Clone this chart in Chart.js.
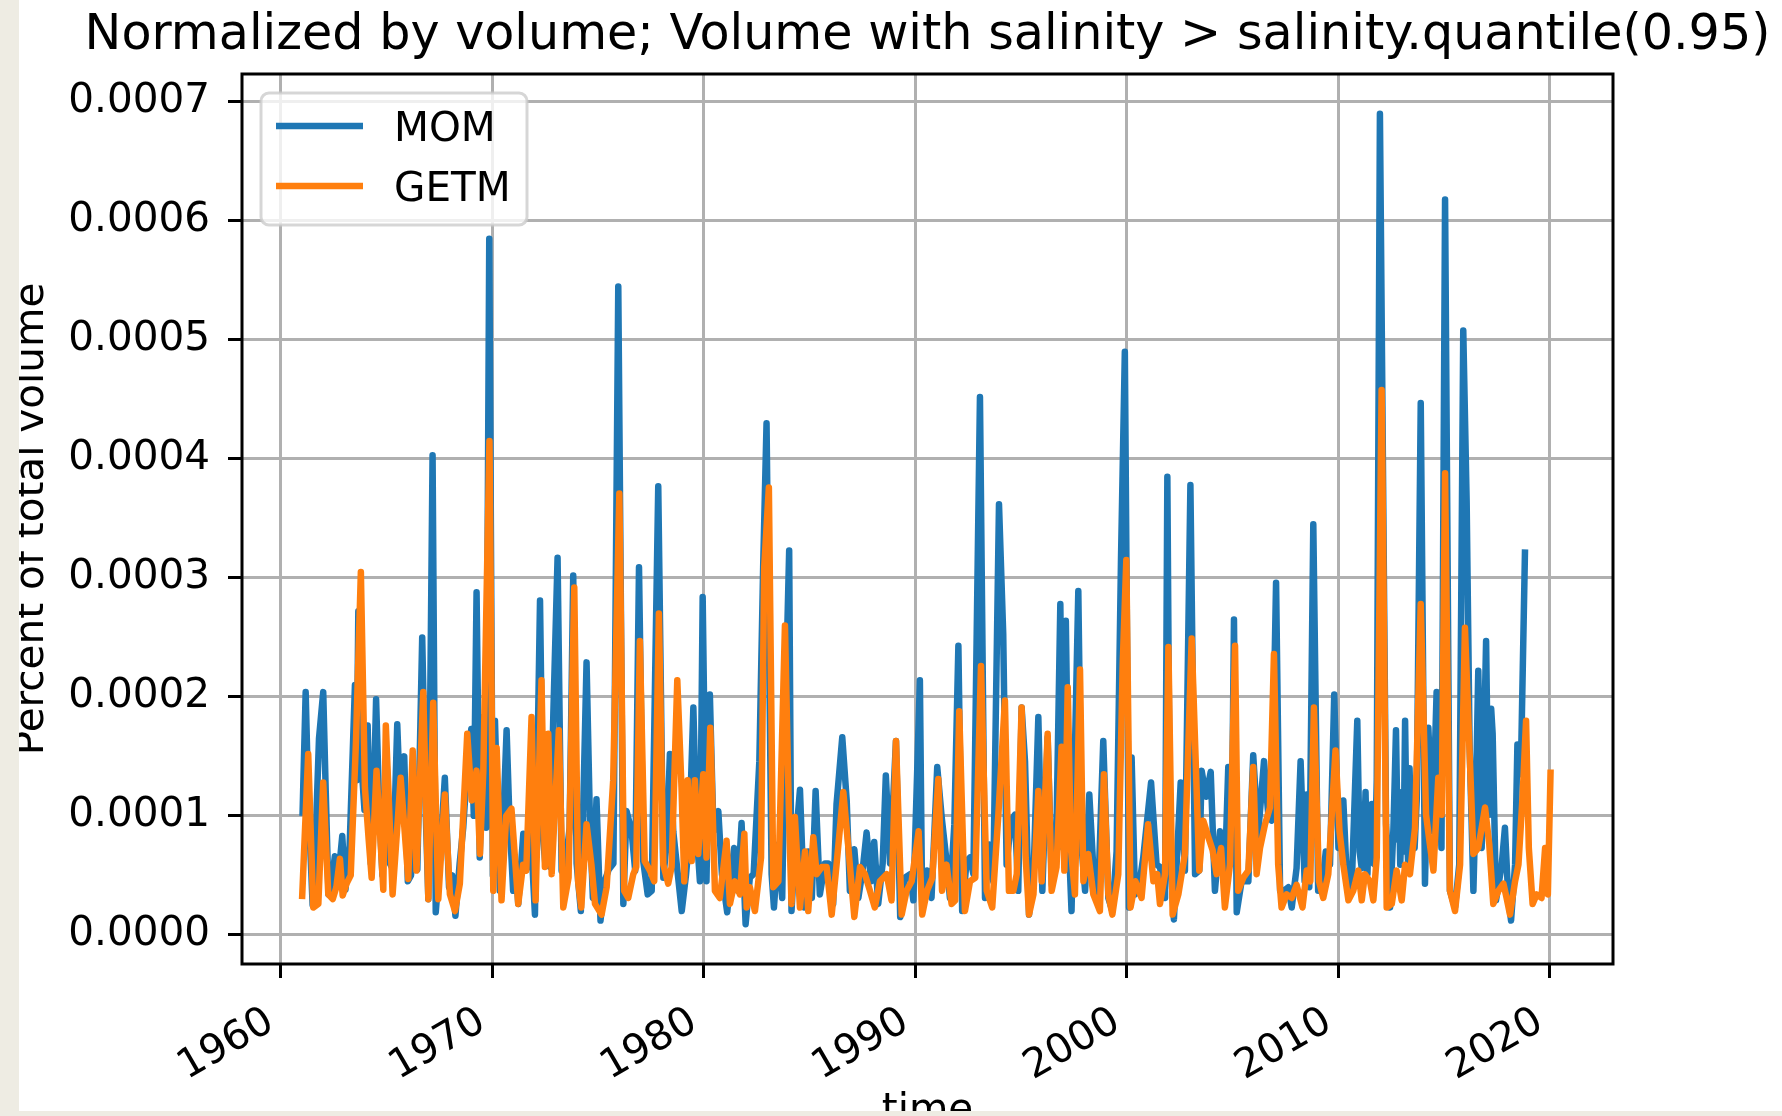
<!DOCTYPE html>
<html>
<head>
<meta charset="utf-8">
<title>Normalized by volume</title>
<script src="https://cdn.jsdelivr.net/npm/chart.js@4/dist/chart.umd.min.js"></script>
<style>
  html, body { margin: 0; padding: 0; overflow: hidden; background: #eeece3; }
  /* white figure, with the beige page showing on the left and bottom edge */
  #frame { position: absolute; left: 19px; top: 0; width: 1763px; height: 1111px; overflow: hidden; background: #fff; }
  #chart { position: absolute; left: -19px; top: 0; }
</style>
</head>
<body>
<div id="frame"><canvas id="chart" width="1782" height="1160"></canvas></div>
<script>
// values are in units of 1e-4 (percent of total volume), time in decimal years
const valueUnit = 1e-4;

const momPoints = [
  [1961.02, 1.0], [1961.17, 2.04], [1961.3, 1.1], [1961.5, 0.25], [1961.62, 0.7], [1961.8, 1.65],
  [1962.0, 2.04], [1962.12, 1.2], [1962.25, 0.34], [1962.4, 0.45], [1962.55, 0.66], [1962.68, 0.42],
  [1962.9, 0.83], [1963.05, 0.38], [1963.25, 0.75], [1963.5, 2.1], [1963.58, 1.3], [1963.66, 2.72],
  [1963.82, 1.4], [1963.95, 1.05], [1964.1, 1.76], [1964.25, 0.6], [1964.38, 1.1], [1964.5, 1.98],
  [1964.65, 1.05], [1964.8, 0.5], [1965.0, 1.45], [1965.15, 0.6], [1965.3, 0.55], [1965.5, 1.77],
  [1965.65, 1.05], [1965.83, 1.5], [1966.0, 0.45], [1966.15, 0.5], [1966.3, 0.85], [1966.45, 0.55],
  [1966.68, 2.5], [1966.85, 1.0], [1966.97, 0.3], [1967.17, 4.03], [1967.32, 0.19], [1967.5, 0.6],
  [1967.75, 1.32], [1967.95, 0.4], [1968.1, 0.5], [1968.25, 0.16], [1968.45, 0.6], [1968.62, 0.9],
  [1968.8, 1.4], [1969.0, 1.73], [1969.12, 1.0], [1969.25, 2.88], [1969.4, 0.65], [1969.57, 1.83],
  [1969.7, 0.9], [1969.85, 5.85], [1970.02, 0.5], [1970.12, 1.8], [1970.35, 0.37], [1970.5, 0.9],
  [1970.67, 1.72], [1970.8, 1.0], [1970.98, 0.37], [1971.1, 0.6], [1971.22, 0.26], [1971.46, 0.85],
  [1971.6, 0.55], [1971.8, 0.9], [1972.01, 0.17], [1972.25, 2.81], [1972.4, 0.8], [1972.5, 0.6],
  [1972.72, 0.57], [1972.88, 1.86], [1973.08, 3.17], [1973.27, 0.54], [1973.51, 0.68], [1973.65, 0.9],
  [1973.82, 3.02], [1973.98, 0.6], [1974.18, 0.2], [1974.45, 2.29], [1974.61, 0.96], [1974.75, 0.31],
  [1974.92, 1.14], [1975.11, 0.12], [1975.3, 0.45], [1975.5, 0.55], [1975.72, 0.6], [1975.95, 5.45],
  [1976.19, 0.26], [1976.34, 1.04], [1976.58, 0.87], [1976.75, 0.54], [1976.93, 3.09], [1977.13, 0.62],
  [1977.34, 0.34], [1977.53, 0.37], [1977.62, 1.38], [1977.84, 3.77], [1978.08, 0.48], [1978.25, 0.8],
  [1978.39, 1.52], [1978.55, 0.87], [1978.95, 0.2], [1979.15, 0.5], [1979.3, 0.8], [1979.5, 1.91],
  [1979.65, 0.87], [1979.81, 0.45], [1979.94, 2.84], [1980.12, 0.45], [1980.28, 2.02], [1980.45, 0.87],
  [1980.68, 1.04], [1980.85, 0.51], [1981.1, 0.19], [1981.28, 0.51], [1981.43, 0.73], [1981.6, 0.37],
  [1981.78, 0.94], [1981.97, 0.09], [1982.17, 0.48], [1982.35, 0.51], [1982.62, 1.46], [1982.8, 3.09],
  [1982.96, 4.3], [1983.2, 0.51], [1983.31, 0.23], [1983.52, 0.76], [1983.7, 0.31], [1983.85, 1.9],
  [1984.03, 3.23], [1984.14, 0.2], [1984.3, 0.7], [1984.54, 1.22], [1984.74, 0.23], [1984.93, 0.7],
  [1985.1, 0.31], [1985.28, 1.21], [1985.48, 0.34], [1985.72, 0.6], [1985.88, 0.6], [1986.11, 0.26],
  [1986.27, 1.1], [1986.54, 1.66], [1986.75, 1.13], [1986.9, 0.37], [1987.11, 0.72], [1987.3, 0.31],
  [1987.5, 0.54], [1987.69, 0.86], [1987.9, 0.45], [1988.05, 0.78], [1988.24, 0.26], [1988.45, 0.6],
  [1988.6, 1.34], [1988.8, 0.6], [1989.08, 1.63], [1989.28, 0.15], [1989.5, 0.48], [1989.75, 0.51],
  [1989.9, 0.29], [1990.21, 2.14], [1990.32, 0.2], [1990.55, 0.54], [1990.76, 0.31], [1991.03, 1.41],
  [1991.24, 0.99], [1991.47, 0.62], [1991.63, 0.31], [1991.84, 0.93], [1992.03, 2.43], [1992.21, 0.2],
  [1992.42, 0.62], [1992.58, 0.65], [1992.74, 0.51], [1993.05, 4.52], [1993.29, 0.31], [1993.49, 0.76],
  [1993.68, 0.45], [1993.95, 3.62], [1994.15, 2.53], [1994.31, 0.59], [1994.52, 0.96], [1994.7, 1.01],
  [1994.86, 0.37], [1995.02, 1.91], [1995.18, 1.46], [1995.37, 0.17], [1995.58, 0.48], [1995.81, 1.83],
  [1996.0, 0.37], [1996.25, 1.66], [1996.45, 0.42], [1996.64, 0.59], [1996.85, 2.78], [1996.99, 0.73],
  [1997.11, 2.64], [1997.26, 0.73], [1997.38, 0.2], [1997.7, 2.89], [1997.86, 0.73], [1998.02, 0.37],
  [1998.22, 1.18], [1998.41, 0.56], [1998.64, 0.34], [1998.88, 1.63], [1999.12, 0.31], [1999.31, 0.2],
  [1999.51, 0.7], [1999.72, 3.17], [1999.9, 4.9], [2000.1, 0.23], [2000.22, 1.49], [2000.38, 0.34],
  [2000.54, 0.37], [2000.77, 0.65], [2001.14, 1.28], [2001.4, 0.59], [2001.56, 0.57], [2001.8, 0.31],
  [2001.91, 3.85], [2002.03, 0.73], [2002.22, 0.13], [2002.54, 1.28], [2002.74, 0.54], [2003.0, 3.78],
  [2003.22, 0.51], [2003.42, 0.54], [2003.53, 1.38], [2003.74, 1.16], [2003.96, 1.37], [2004.16, 0.37],
  [2004.4, 0.87], [2004.63, 0.51], [2004.79, 1.41], [2004.95, 0.73], [2005.06, 2.65], [2005.19, 0.19],
  [2005.42, 0.45], [2005.74, 0.45], [2005.97, 1.51], [2006.2, 0.84], [2006.48, 1.46], [2006.68, 1.01],
  [2006.84, 0.96], [2007.05, 2.96], [2007.24, 0.37], [2007.42, 0.37], [2007.63, 0.4], [2007.79, 0.23],
  [2008.02, 0.56], [2008.21, 1.46], [2008.4, 0.45], [2008.5, 1.18], [2008.62, 0.4], [2008.81, 3.45],
  [2009.04, 0.37], [2009.2, 0.37], [2009.4, 0.7], [2009.6, 0.59], [2009.8, 2.02], [2010.0, 0.73],
  [2010.23, 1.13], [2010.4, 0.45], [2010.62, 0.37], [2010.89, 1.8], [2011.0, 0.7], [2011.1, 0.56],
  [2011.16, 1.05], [2011.21, 0.76], [2011.28, 1.2], [2011.37, 0.51], [2011.44, 0.95], [2011.5, 0.73],
  [2011.58, 1.1], [2011.65, 0.6], [2011.72, 0.59], [2011.81, 1.3], [2011.96, 6.9], [2012.25, 0.93],
  [2012.44, 0.23], [2012.6, 0.9], [2012.66, 1.3], [2012.72, 1.72], [2012.8, 0.8], [2012.86, 1.2],
  [2012.92, 0.59], [2013.0, 1.0], [2013.08, 0.7], [2013.15, 1.8], [2013.22, 0.9], [2013.3, 0.59],
  [2013.36, 1.4], [2013.41, 1.1], [2013.5, 0.8], [2013.6, 0.73], [2013.7, 1.13], [2013.89, 4.47],
  [2014.09, 0.43], [2014.25, 1.74], [2014.45, 0.87], [2014.64, 2.04], [2014.87, 0.73], [2015.04, 6.18],
  [2015.27, 0.37], [2015.51, 0.23], [2015.71, 0.59], [2015.9, 5.08], [2016.06, 3.65], [2016.2, 1.6],
  [2016.38, 0.37], [2016.5, 1.2], [2016.61, 2.22], [2016.7, 1.4], [2016.77, 0.73], [2016.88, 1.6],
  [2016.98, 2.47], [2017.06, 1.4], [2017.14, 1.01], [2017.22, 1.9], [2017.29, 1.69], [2017.45, 0.29],
  [2017.72, 0.59], [2017.87, 0.9], [2018.03, 0.31], [2018.16, 0.12], [2018.35, 0.59], [2018.46, 1.6],
  [2018.62, 1.35], [2018.82, 3.24]
];

const getmPoints = [
  [1961.0, 0.3], [1961.29, 1.52], [1961.53, 0.23], [1961.77, 0.26], [1962.0, 1.28], [1962.24, 0.34],
  [1962.45, 0.3], [1962.62, 0.4], [1962.79, 0.64], [1962.92, 0.33], [1963.1, 0.43], [1963.3, 0.5],
  [1963.55, 1.63], [1963.78, 3.05], [1963.97, 1.24], [1964.15, 0.8], [1964.29, 0.48], [1964.52, 1.38],
  [1964.84, 0.38], [1964.96, 1.76], [1965.28, 0.34], [1965.5, 0.9], [1965.66, 1.32], [1966.02, 0.47],
  [1966.23, 1.55], [1966.41, 0.54], [1966.73, 2.04], [1966.97, 0.3], [1967.2, 1.95], [1967.44, 0.3],
  [1967.75, 1.18], [1967.99, 0.34], [1968.23, 0.2], [1968.46, 0.43], [1968.81, 1.69], [1969.02, 1.13],
  [1969.25, 1.38], [1969.41, 0.68], [1969.57, 1.38], [1969.86, 4.15], [1970.04, 0.37], [1970.2, 1.57],
  [1970.43, 0.29], [1970.65, 1.0], [1970.9, 1.06], [1971.22, 0.26], [1971.45, 0.59], [1971.6, 0.54],
  [1971.85, 1.83], [1972.04, 0.29], [1972.32, 2.14], [1972.48, 0.57], [1972.64, 1.69], [1972.8, 0.51],
  [1973.14, 1.72], [1973.35, 0.23], [1973.6, 0.48], [1973.87, 2.92], [1974.05, 0.45], [1974.2, 0.23],
  [1974.45, 0.93], [1974.68, 0.59], [1974.85, 0.26], [1975.16, 0.17], [1975.4, 0.4], [1975.71, 1.3],
  [1976.0, 3.71], [1976.23, 0.37], [1976.42, 0.31], [1976.66, 0.51], [1976.8, 0.57], [1976.97, 2.47],
  [1977.2, 0.62], [1977.45, 0.54], [1977.65, 0.45], [1977.87, 2.7], [1978.08, 0.59], [1978.31, 0.43],
  [1978.47, 0.57], [1978.74, 2.14], [1978.94, 1.24], [1979.07, 0.45], [1979.23, 1.3], [1979.42, 0.62],
  [1979.57, 1.3], [1979.73, 0.68], [1979.97, 1.35], [1980.12, 0.65], [1980.3, 1.74], [1980.52, 0.37],
  [1980.75, 0.31], [1981.07, 0.79], [1981.23, 0.26], [1981.46, 0.45], [1981.7, 0.34], [1981.91, 0.85],
  [1982.02, 0.23], [1982.17, 0.4], [1982.41, 0.2], [1982.7, 0.65], [1982.85, 3.09], [1983.07, 3.76],
  [1983.28, 0.4], [1983.52, 0.45], [1983.83, 2.6], [1984.02, 1.01], [1984.14, 0.26], [1984.3, 0.99],
  [1984.54, 0.23], [1984.78, 0.7], [1984.93, 0.2], [1985.17, 0.82], [1985.33, 0.51], [1985.57, 0.57],
  [1985.8, 0.57], [1986.04, 0.17], [1986.27, 0.59], [1986.59, 1.2], [1986.83, 0.73], [1987.11, 0.15],
  [1987.38, 0.57], [1987.61, 0.51], [1987.85, 0.37], [1988.08, 0.23], [1988.32, 0.45], [1988.64, 0.51],
  [1988.87, 0.29], [1989.08, 1.63], [1989.35, 0.17], [1989.58, 0.37], [1989.82, 0.45], [1990.15, 0.87],
  [1990.32, 0.17], [1990.55, 0.37], [1990.8, 0.48], [1991.08, 1.31], [1991.26, 0.37], [1991.47, 0.59],
  [1991.71, 0.26], [1991.88, 0.29], [1992.07, 1.88], [1992.34, 0.2], [1992.58, 0.45], [1992.83, 0.48],
  [1993.1, 2.26], [1993.37, 0.37], [1993.63, 0.23], [1993.92, 1.01], [1994.23, 1.97], [1994.42, 0.37],
  [1994.63, 0.37], [1994.79, 0.51], [1995.02, 1.91], [1995.21, 0.65], [1995.37, 0.17], [1995.58, 0.34],
  [1995.81, 1.21], [1995.97, 0.45], [1996.25, 1.69], [1996.44, 0.37], [1996.67, 0.57], [1996.91, 1.58],
  [1997.04, 0.54], [1997.2, 2.08], [1997.35, 0.73], [1997.54, 0.34], [1997.78, 2.23], [1997.94, 0.45],
  [1998.17, 0.68], [1998.41, 0.34], [1998.72, 0.2], [1998.91, 1.35], [1999.12, 0.34], [1999.31, 0.17],
  [1999.59, 0.51], [1999.8, 2.28], [1999.97, 3.15], [2000.17, 0.23], [2000.4, 0.45], [2000.69, 0.31],
  [2001.0, 0.93], [2001.25, 0.45], [2001.43, 0.51], [2001.56, 0.26], [2001.8, 0.51], [2001.96, 2.42],
  [2002.16, 0.17], [2002.43, 0.34], [2002.74, 0.68], [2003.06, 2.49], [2003.42, 0.54], [2003.61, 0.96],
  [2003.85, 0.82], [2004.05, 0.71], [2004.24, 0.51], [2004.45, 0.73], [2004.63, 0.23], [2004.87, 0.59],
  [2005.11, 2.43], [2005.26, 0.37], [2005.5, 0.48], [2005.74, 0.54], [2005.97, 1.41], [2006.13, 0.51],
  [2006.29, 0.73], [2006.53, 0.93], [2006.76, 1.07], [2006.95, 2.36], [2007.15, 0.59], [2007.31, 0.23],
  [2007.55, 0.34], [2007.79, 0.31], [2008.02, 0.42], [2008.3, 0.23], [2008.5, 0.54], [2008.67, 0.45],
  [2008.84, 1.91], [2009.08, 0.45], [2009.28, 0.31], [2009.52, 0.51], [2009.86, 1.55], [2010.05, 0.87],
  [2010.23, 0.59], [2010.47, 0.29], [2010.7, 0.37], [2010.94, 0.54], [2011.1, 0.29], [2011.25, 0.51],
  [2011.49, 0.45], [2011.65, 0.29], [2011.81, 0.65], [2012.04, 4.58], [2012.28, 0.23], [2012.52, 0.26],
  [2012.75, 0.54], [2012.99, 0.29], [2013.15, 0.59], [2013.38, 0.51], [2013.62, 0.9], [2013.89, 2.78],
  [2014.14, 1.01], [2014.3, 0.79], [2014.49, 0.54], [2014.72, 1.32], [2014.88, 1.01], [2015.04, 3.88],
  [2015.27, 0.37], [2015.51, 0.2], [2015.75, 0.59], [2015.98, 2.58], [2016.19, 1.58], [2016.38, 0.68],
  [2016.61, 0.73], [2016.93, 1.07], [2017.13, 0.76], [2017.32, 0.26], [2017.56, 0.37], [2017.8, 0.43],
  [2017.95, 0.31], [2018.11, 0.17], [2018.35, 0.45], [2018.51, 0.59], [2018.71, 1.18], [2018.87, 1.8],
  [2019.0, 0.73], [2019.18, 0.26], [2019.37, 0.34], [2019.6, 0.31], [2019.77, 0.73], [2019.9, 0.34],
  [2020.03, 1.39]
];

const xTicks = [1960, 1970, 1980, 1990, 2000, 2010, 2020];
const xTickLabels = ['1960', '1970', '1980', '1990', '2000', '2010', '2020'];
const yTicks = [0, 0.0001, 0.0002, 0.0003, 0.0004, 0.0005, 0.0006, 0.0007];
const yTickLabels = ['0.0000', '0.0001', '0.0002', '0.0003', '0.0004', '0.0005', '0.0006', '0.0007'];

const seriesNames = ['MOM', 'GETM'];
const seriesColors = ['#1f77b4', '#ff7f0e'];
const chartTitle = 'Normalized by volume; Volume with salinity > salinity.quantile(0.95)';

const FONT = '"DejaVu Sans"';
const labelSize = 40.5;   // 10pt at the figure's dpi
const titleSize = 49.2;   // 12pt

Chart.defaults.font.family = 'DejaVu Sans';
Chart.defaults.color = '#000';

const gridStyle = {
    color: '#b0b0b0',
    lineWidth: 3,
    tickColor: '#000',
    tickWidth: 3,
    tickLength: 14
};

// title (centred on the axes), spines and a matplotlib style legend
const frameAndLegend = {
    id: 'frameAndLegend',
    afterDatasetsDraw(chart) {
        const ctx = chart.ctx;
        const a = chart.chartArea;
        ctx.save();
        ctx.strokeStyle = '#000';
        ctx.lineWidth = 3;
        ctx.strokeRect(a.left, a.top, a.right - a.left, a.bottom - a.top);

        ctx.fillStyle = '#000';
        ctx.font = titleSize + 'px ' + FONT;
        ctx.textAlign = 'center';
        ctx.textBaseline = 'alphabetic';
        ctx.fillText(chartTitle, (a.left + a.right) / 2, 49);

        const x = a.left + 19, y = a.top + 19, w = 266, h = 132, r = 8;
        ctx.beginPath();
        ctx.moveTo(x + r, y);
        ctx.arcTo(x + w, y, x + w, y + h, r);
        ctx.arcTo(x + w, y + h, x, y + h, r);
        ctx.arcTo(x, y + h, x, y, r);
        ctx.arcTo(x, y, x + w, y, r);
        ctx.closePath();
        ctx.globalAlpha = 0.8;
        ctx.fillStyle = '#fff';
        ctx.fill();
        ctx.strokeStyle = '#cccccc';
        ctx.lineWidth = 3;
        ctx.stroke();
        ctx.globalAlpha = 1;

        ctx.font = labelSize + 'px ' + FONT;
        ctx.textAlign = 'left';
        chart.data.datasets.forEach((ds, i) => {
            const ly = y + 33 + i * 60;
            ctx.beginPath();
            ctx.moveTo(x + 15, ly);
            ctx.lineTo(x + 102, ly);
            ctx.strokeStyle = ds.borderColor;
            ctx.lineWidth = 6.5;
            ctx.stroke();
            ctx.fillStyle = '#000';
            ctx.fillText(ds.label, x + 133, ly + 14.5);
        });
        ctx.restore();
    }
};

function toXY(points) {
    return points.map(p => ({ x: p[0], y: p[1] * valueUnit }));
}

const lineStyle = {
    borderWidth: 6.5,
    pointRadius: 0,
    pointHoverRadius: 0,
    tension: 0,
    borderJoinStyle: 'round',
    fill: false
};

new Chart(document.getElementById('chart'), {
    type: 'line',
    data: {
        datasets: [
            Object.assign({ label: seriesNames[0], data: toXY(momPoints), borderColor: seriesColors[0], order: 1 }, lineStyle),
            Object.assign({ label: seriesNames[1], data: toXY(getmPoints), borderColor: seriesColors[1], order: 0 }, lineStyle)
        ]
    },
    options: {
        responsive: false,
        animation: false,
        events: [],
        layout: { padding: { left: 0, right: 169, top: 74, bottom: 0 } },
        plugins: {
            legend: { display: false },
            tooltip: { enabled: false },
            title: { display: false }
        },
        scales: {
            x: {
                type: 'linear',
                min: 1958.16,
                max: 2022.98,
                afterBuildTicks: s => { s.ticks = xTicks.map(v => ({ value: v })); },
                afterFit: s => { s.height = 1160 - 964; },
                ticks: {
                    autoSkip: false,
                    minRotation: 30,
                    maxRotation: 30,
                    padding: 20,
                    labelOffset: -10,
                    font: { size: labelSize },
                    callback: (v, i) => xTickLabels[i]
                },
                grid: gridStyle,
                border: { display: false },
                title: { display: true, text: 'time', font: { size: labelSize }, padding: { top: 0, bottom: 24 } }
            },
            y: {
                type: 'linear',
                min: -0.0000245,
                max: 0.0007235,
                afterBuildTicks: s => { s.ticks = yTicks.map(v => ({ value: v })); },
                afterFit: s => { s.width = 242; },
                ticks: {
                    padding: 18,
                    font: { size: labelSize },
                    callback: (v, i) => yTickLabels[i]
                },
                grid: gridStyle,
                border: { display: false },
                title: { display: true, text: 'Percent of total volume', font: { size: labelSize }, padding: { top: 8, bottom: 0 } }
            }
        }
    },
    plugins: [frameAndLegend]
});
</script>
</body>
</html>
